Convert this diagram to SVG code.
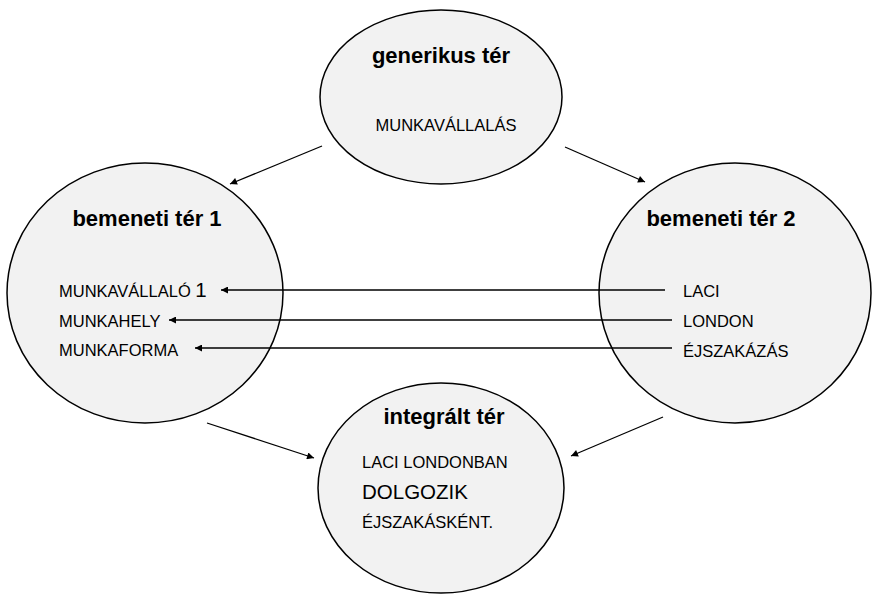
<svg xmlns="http://www.w3.org/2000/svg" width="872" height="595" viewBox="0 0 872 595">
<style>
.node{fill:#f2f2f2;stroke:#000;stroke-width:1.5}
.t{font-family:"Liberation Sans",Arial,sans-serif;font-size:16.5px;fill:#000}
.big{font-size:20.5px}
.h{font-family:"Liberation Sans",Arial,sans-serif;font-size:22px;font-weight:bold;fill:#000}
.c{stroke:#000;stroke-width:1.3;fill:none;marker-end:url(#ah)}
</style>
<defs>
<marker id="ah" viewBox="0 0 10 10" refX="10" refY="5" markerWidth="8" markerHeight="7" markerUnits="userSpaceOnUse" orient="auto">
<path d="M0,0 L10,5 L0,10 z" fill="#000"/>
</marker>
</defs>
<rect width="872" height="595" fill="#fff"/>
<g id="generikus">
<ellipse class="node" cx="441" cy="97" rx="121" ry="87"/>
<text class="h" x="441" y="63" text-anchor="middle">generikus tér</text>
<text class="t" x="446" y="131" text-anchor="middle">MUNKAVÁLLALÁS</text>
</g>
<g id="bemeneti1">
<ellipse class="node" cx="145" cy="293" rx="138" ry="130"/>
<text class="h" x="147" y="226" text-anchor="middle">bemeneti tér 1</text>
<text class="t" x="59" y="297">MUNKAVÁLLALÓ <tspan class="big">1</tspan></text>
<text class="t" x="59" y="327">MUNKAHELY</text>
<text class="t" x="59" y="356">MUNKAFORMA</text>
</g>
<g id="bemeneti2">
<ellipse class="node" cx="735" cy="293" rx="136" ry="130"/>
<text class="h" x="721" y="226" text-anchor="middle">bemeneti tér 2</text>
<text class="t" x="683" y="297">LACI</text>
<text class="t" x="683" y="327">LONDON</text>
<text class="t" x="683" y="357">ÉJSZAKÁZÁS</text>
</g>
<g id="integralt">
<ellipse class="node" cx="441" cy="488" rx="123" ry="105"/>
<text class="h" x="444" y="424" text-anchor="middle">integrált tér</text>
<text class="t" x="362" y="468">LACI LONDONBAN</text>
<text class="t big" x="362" y="499">DOLGOZIK</text>
<text class="t" x="362" y="528">ÉJSZAKÁSKÉNT.</text>
</g>
<g id="connectors">
<line class="c" x1="322" y1="146" x2="230" y2="184"/>
<line class="c" x1="565" y1="147" x2="645" y2="182"/>
<line class="c" x1="207" y1="423" x2="314" y2="458"/>
<line class="c" x1="663" y1="417" x2="571" y2="456"/>
<line class="c" x1="665" y1="290" x2="221" y2="290"/>
<line class="c" x1="672" y1="320" x2="169" y2="320"/>
<line class="c" x1="672" y1="348" x2="195" y2="348"/>
</g>
</svg>
